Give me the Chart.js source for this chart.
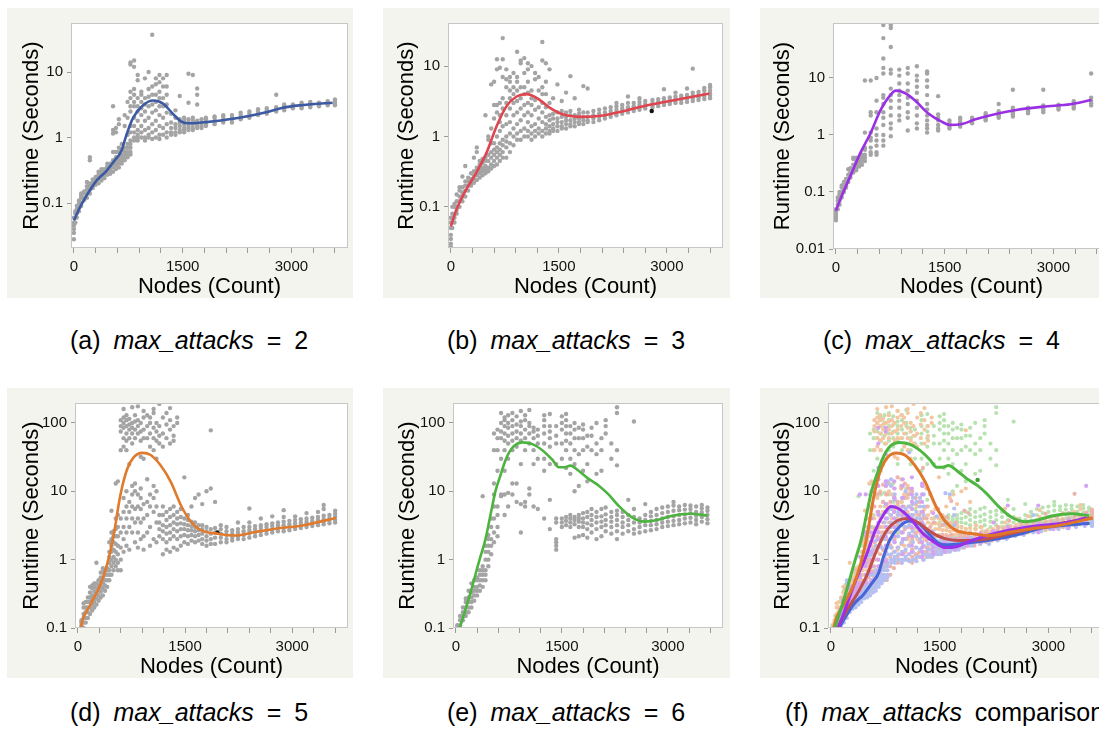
<!DOCTYPE html>
<html>
<head>
<meta charset="utf-8">
<script src="https://cdn.jsdelivr.net/npm/chart.js@4.4.0/dist/chart.umd.min.js"></script>
<style>
  body { margin: 0; background: #fff; width: 1099px; height: 736px; overflow: hidden; position: relative; }
  canvas { position: absolute; background: #f4f4ef; }
  .cap { position: absolute; font-family: "Liberation Sans", Arial, sans-serif; font-size: 25px; line-height: 30px;
         color: #000; white-space: nowrap; word-spacing: 6px; }
</style>
</head>
<body>
<canvas id="pa" width="346" height="290" style="left:7px;top:8px"></canvas>
<canvas id="pb" width="347" height="290" style="left:383px;top:8px"></canvas>
<canvas id="pc" width="355" height="290" style="left:760px;top:8px"></canvas>
<canvas id="pd" width="346" height="290" style="left:7px;top:388px"></canvas>
<canvas id="pe" width="347" height="290" style="left:383px;top:388px"></canvas>
<canvas id="pf" width="350" height="290" style="left:760px;top:388px"></canvas>

<div class="cap" style="left:70px;top:325px">(a) <i>max_attacks</i> = 2</div>
<div class="cap" style="left:447px;top:325px">(b) <i>max_attacks</i> = 3</div>
<div class="cap" style="left:823px;top:325px">(c) <i>max_attacks</i> = 4</div>
<div class="cap" style="left:70px;top:697px">(d) <i>max_attacks</i> = 5</div>
<div class="cap" style="left:447px;top:697px">(e) <i>max_attacks</i> = 6</div>
<div class="cap" style="left:785px;top:697px">(f) <i>max_attacks</i> comparison</div>

<script>
// ---- tick labels ----
const nodeTicks = [0, 300, 600, 900, 1200, 1500, 1800, 2100, 2400, 2700, 3000, 3300, 3600];
const nodeLabels = [0, 1500, 3000];
const runtimeTicks = [0.01, 0.1, 1, 10, 100];

// ---- smoothed fits [nodes, seconds] ----
const lineA = [[0,0.054],[83,0.086],[174,0.13],[312,0.22],[450,0.31],[564,0.45],[656,0.63],[725,1.1],[816,2.0],[954,3.1],[1091,3.67],[1229,3.3],[1366,2.3],[1481,1.75],[1596,1.65],[1826,1.72],[2193,1.93],[2651,2.44],[2880,2.85],[3110,3.1],[3568,3.4]];
const lineB = [[0,0.053],[79,0.092],[218,0.18],[357,0.31],[496,0.59],[635,1.4],[774,2.7],[913,3.7],[1052,4.0],[1191,3.55],[1376,2.55],[1561,2.05],[1839,1.9],[2117,1.99],[2395,2.29],[2673,2.69],[2951,3.07],[3276,3.55],[3591,4.07]];
const lineC = [[0,0.047],[56,0.072],[196,0.186],[336,0.48],[477,1.07],[617,2.75],[734,4.7],[827,6.0],[944,5.5],[1084,4.1],[1271,2.4],[1458,1.71],[1575,1.5],[1739,1.56],[1925,1.88],[2206,2.33],[2486,2.74],[2860,3.14],[3234,3.45],[3524,4.1]];
const lineD = [[35,0.09],[52,0.116],[170,0.215],[311,0.42],[406,0.83],[500,2.26],[594,8.7],[689,21],[783,31.6],[901,36.5],[1019,34],[1160,23.8],[1302,13.6],[1443,6.2],[1585,3.55],[1726,2.68],[1962,2.4],[2197,2.26],[2480,2.54],[2764,2.84],[3141,3.17],[3613,4.06]];
const lineE = [[40,0.09],[60,0.104],[196,0.30],[336,1.0],[420,2.0],[490,4.5],[560,10],[630,17],[700,28],[760,38],[830,47],[944,52],[1084,49],[1224,40],[1365,29],[1458,22.5],[1540,22.5],[1622,23.8],[1738,20],[1879,15.2],[2019,12.2],[2160,9.0],[2299,6.2],[2486,4.2],[2673,3.6],[2850,3.8],[3047,4.35],[3327,4.7],[3561,4.4]];

// ---- measured runs: [nodes, [seconds...]] ----
const runsA = [
  [0,[0.028,0.035,0.04,0.045,0.05,0.06]],[20,[0.05,0.06,0.07,0.075]],[40,[0.06,0.07,0.08,0.09]],
  [70,[0.075,0.085,0.1,0.11]],[100,[0.09,0.1,0.12,0.13,0.14]],[140,[0.11,0.12,0.14,0.15]],
  [180,[0.12,0.14,0.16,0.18,0.21]],[220,[0.14,0.16,0.18,0.2,0.45,0.5]],[260,[0.17,0.19,0.21,0.23]],
  [300,[0.19,0.21,0.23,0.25]],[340,[0.2,0.23,0.25,0.27,0.3]],[380,[0.22,0.25,0.27,0.3,0.33]],
  [420,[0.24,0.27,0.3,0.33]],[460,[0.27,0.3,0.33,0.36,0.4]],[500,[0.28,0.32,0.35,0.4]],
  [540,[0.3,0.35,0.4,0.45,0.6,1.15,1.3,3.0]],[580,[0.33,0.38,0.42,0.5,0.6,1.2,1.4]],
  [620,[0.35,0.4,0.45,0.5,0.6,0.7,1.6,1.9]],[660,[0.4,0.45,0.5,0.55,0.65,0.8]],
  [700,[0.45,0.5,0.55,0.6,0.7,1.5,2.2]],[740,[0.5,0.55,0.6,0.7,0.8,1.1,2.0,3.5]],
  [780,[0.55,0.6,0.7,0.8,0.9,1.2,1.5,2.5,3.0,4.0,5.0,13,14]],[830,[0.9,1.0,1.2,1.5,2.0,3.0,3.5,4.5,5.5,12,15]],
  [880,[0.9,1.0,1.1,1.3,1.8,2.5,3.0,4.0,7.5,9.0]],[930,[1.0,1.2,1.5,2.2,2.8,3.5,4.5,5.0]],
  [980,[0.9,1.0,1.3,1.8,2.5,3.2,4.0,8.0]],[1030,[1.0,1.1,1.4,2.0,3.0,4.2,5.5,10]],
  [1080,[0.95,1.2,1.6,2.4,3.2,4.5,6.0,37]],[1130,[1.0,1.3,1.8,2.6,3.5,4.5,6.5,8.0]],
  [1180,[0.95,1.1,1.5,2.2,3.0,4.0,5.0,7.0,9.0]],[1230,[1.1,1.4,2.0,3.0,4.0,6.0,8.0]],
  [1280,[1.0,1.2,1.6,2.4,3.2,4.5,6.0,9.0]],[1340,[1.1,1.2,1.4,1.7,2.3]],[1400,[1.1,1.2,1.4,1.6,2.0,2.6]],
  [1460,[1.2,1.3,1.5,1.7,1.9,4.3]],[1520,[1.2,1.3,1.4,1.6,1.8,2.0]],[1580,[1.3,1.4,1.5,1.7,1.9,3.4,9.4]],
  [1640,[1.3,1.4,1.6,1.8,2.0,9.0]],[1700,[1.4,1.5,1.6,1.8,3.2,4.5,5.6]],[1760,[1.4,1.5,1.7,1.9]],
  [1820,[1.5,1.6,1.7,1.9,2.0]],[1940,[1.6,1.7,1.8,2.0,2.1]],[2060,[1.7,1.8,1.9,2.1,2.2]],
  [2180,[1.7,1.9,2.0,2.2]],[2300,[1.9,2.0,2.2,2.4]],[2420,[2.0,2.1,2.3,2.5]],[2540,[2.2,2.3,2.5,2.7]],
  [2660,[2.3,2.4,2.6,2.8]],[2790,[2.5,2.7,2.9,4.5]],[2900,[2.6,2.8,3.0,3.2]],[3020,[2.8,3.0,3.2]],
  [3140,[2.8,3.0,3.2,3.4]],[3260,[2.9,3.1,3.3,3.5]],[3380,[3.0,3.2,3.4]],[3500,[3.1,3.3,3.5,3.6]],
  [3600,[3.1,3.2,3.4,3.6,3.8]]
];
const runsB = [
  [0,[0.027,0.03,0.035,0.04,0.05,0.06,0.07]],[20,[0.05,0.06,0.07,0.08,0.1]],[50,[0.06,0.07,0.08,0.1,0.11]],
  [80,[0.08,0.09,0.1,0.12,0.15]],[120,[0.1,0.12,0.14,0.17,0.19]],[160,[0.12,0.14,0.16,0.19,0.27]],
  [200,[0.14,0.17,0.2,0.23,0.38]],[240,[0.17,0.2,0.23,0.26]],[280,[0.2,0.22,0.25,0.3]],
  [320,[0.22,0.25,0.28,0.32,0.5]],[360,[0.24,0.28,0.32,0.36,0.6,0.7]],[400,[0.26,0.3,0.34,0.4,0.45]],
  [440,[0.28,0.32,0.36,0.42,0.48]],[480,[0.3,0.34,0.38,0.45,0.5,2.0]],[520,[0.32,0.36,0.45,0.55,0.9,1.0]],
  [560,[0.35,0.4,0.5,0.6,0.8,1.3,5.5]],[600,[0.38,0.45,0.55,0.65,0.8,1.8,2.8,6.0]],
  [640,[0.4,0.5,0.6,0.7,1.0,2.2,2.8,9.0,12.5]],[680,[0.45,0.55,0.65,0.8,1.2,1.6,2.0,3.0,9.5]],
  [720,[0.5,0.6,0.75,0.9,1.4,2.5,3.5,7.0,12.5,25]],[770,[0.5,0.7,0.85,1.0,1.5,2.0,3.0,5.0,6.5,9.0]],
  [820,[0.6,0.8,1.1,1.6,2.5,3.5,4.5,6.0,7.0]],[870,[0.75,1.0,1.3,2.0,3.0,4.0,5.0,8.0]],
  [920,[0.9,1.1,1.5,2.2,3.2,4.5,6.0,7.0,16]],[970,[0.9,1.2,1.7,2.5,3.5,5.0,11,12]],
  [1020,[1.0,1.3,2.0,2.8,4.0,5.0,8.0,13]],[1070,[1.0,1.2,1.6,2.2,3.0,4.2,6.0,9.0,11]],
  [1120,[0.9,1.1,1.4,2.0,2.8,3.5,4.5,10]],[1170,[1.0,1.2,1.5,2.4,3.3,6.5,8.0]],
  [1220,[1.1,1.3,1.8,2.6,4.5,7.0]],[1270,[1.0,1.2,1.6,2.2,3.0,4.0,5.0,12,22]],
  [1320,[1.1,1.3,1.5,1.9,2.6,4.0,6.0,11]],[1370,[1.1,1.2,1.4,1.7,2.0,3.0,9.0]],
  [1420,[1.2,1.3,1.5,1.8,2.1,3.5]],[1480,[1.2,1.4,1.6,1.8,2.2,5.5]],[1540,[1.3,1.4,1.6,1.9,2.3,3.2]],
  [1600,[1.3,1.5,1.7,1.9,2.2,4.2]],[1660,[1.4,1.5,1.7,2.0,2.3,7.2]],[1720,[1.4,1.6,1.8,2.0,3.5]],
  [1780,[1.5,1.6,1.8,2.1,2.4]],[1840,[1.5,1.7,1.9,2.2,5.2]],[1900,[1.6,1.7,1.9,2.2,4.8]],
  [1980,[1.6,1.8,2.0,2.3]],[2060,[1.7,1.9,2.1,2.4]],[2140,[1.8,2.0,2.2,2.5]],[2220,[1.9,2.1,2.3,2.6]],
  [2300,[2.0,2.2,2.4,2.7,3.0]],[2380,[2.1,2.3,2.5,2.8]],[2460,[2.2,2.4,2.6,3.0,3.7]],
  [2540,[2.3,2.5,2.7,3.0]],[2620,[2.4,2.6,2.8,3.1,3.5]],[2700,[2.5,2.7,2.9,3.2]],
  [2800,[2.6,2.8,3.0,3.3]],[2880,[2.7,2.9,3.1,3.4]],[2960,[2.8,3.0,3.2,3.5,4.7]],
  [3040,[2.9,3.1,3.3,3.6]],[3120,[3.0,3.2,3.4,3.7,4.2]],[3200,[3.0,3.3,3.5,3.8]],
  [3280,[3.1,3.4,3.6,3.9,4.8]],[3360,[3.2,3.5,3.8,4.2,9.2]],[3440,[3.3,3.6,3.9,4.3]],
  [3520,[3.4,3.7,4.0,4.5,4.9]],[3600,[3.5,3.8,4.1,4.5,5.0,5.4]]
];
const runsC = [
  [0,[0.032,0.035,0.038,0.042,0.046,0.05]],[25,[0.05,0.06,0.07,0.08]],[50,[0.06,0.07,0.08,0.09,0.1]],
  [80,[0.08,0.09,0.1,0.12,0.13]],[110,[0.1,0.11,0.13,0.15]],[140,[0.12,0.13,0.15,0.17]],
  [170,[0.15,0.17,0.2,0.25]],[200,[0.18,0.2,0.22,0.26]],[240,[0.22,0.25,0.3,0.38,0.4]],
  [280,[0.24,0.26,0.3,0.35,0.4]],[320,[0.28,0.3,0.34,0.38]],[360,[0.3,0.35,0.4,0.45]],
  [400,[0.35,0.4,0.45,0.55,0.6,1.1,9.0]],[480,[0.45,0.5,0.6,0.8,0.9,1.1,2.2,2.5,9.0]],
  [560,[0.45,0.5,0.65,0.8,1.0,1.3,2.5,4.0,10]],
  [654,[0.65,0.8,1.0,1.5,2.0,2.5,3.5,4.5,5.0,12,15,22,50,85]],
  [757,[0.95,1.3,1.6,2.2,3.0,4.0,5.0,6.5,12,14,35,75,85]],
  [874,[1.8,2.2,3.0,4.0,5.0,6.0,8.0,11,14]],[991,[1.2,2.0,2.5,3.5,4.5,6.0,8.0,12,15]],
  [1117,[1.3,1.6,2.2,3.0,4.0,5.5,7.0,9.0,11,16]],[1258,[1.1,1.3,1.5,1.8,2.2,2.8,3.5,5.0,7.0,9.0,12,13]],
  [1410,[1.2,1.3,1.5,1.8,2.0,2.3,4.8]],[1566,[1.3,1.4,1.5,1.6,1.8]],[1714,[1.4,1.5,1.6,1.7,1.9,2.0]],
  [1878,[1.6,1.7,1.8,1.9,2.0]],[2065,[1.8,1.9,2.0,2.2,2.4]],[2245,[2.0,2.1,2.2,2.4,2.6,3.5]],
  [2440,[2.1,2.3,2.5,2.7,3.0,6.2]],[2650,[2.4,2.6,2.8,3.0]],[2860,[2.5,2.7,2.9,3.1,3.3,6.2]],
  [3070,[2.8,3.0,3.2,3.4]],[3280,[2.9,3.1,3.3,3.6,3.9]],[3520,[3.3,3.6,4.0,4.5,12]]
];
const runsD = [
  [50,[0.1,0.11,0.12,0.13]],[80,[0.1,0.12,0.14,0.16,0.2,0.23]],[110,[0.12,0.14,0.17,0.2,0.24]],
  [140,[0.14,0.17,0.2,0.24,0.28]],[170,[0.16,0.2,0.24,0.28,0.33,0.4]],[200,[0.18,0.22,0.26,0.3,0.38,0.42]],
  [230,[0.2,0.24,0.28,0.34,0.4,0.45]],[260,[0.22,0.27,0.32,0.38,0.45,0.9]],[290,[0.25,0.3,0.36,0.42,0.5]],
  [320,[0.28,0.34,0.4,0.48,0.55,0.65]],[350,[0.3,0.38,0.45,0.55,0.65,0.75]],[380,[0.35,0.42,0.5,0.6,0.7]],
  [410,[0.4,0.5,0.6,0.7,0.75]],[440,[0.5,0.6,0.7,0.9,1.1,1.3,1.8]],[470,[0.6,0.8,1.0,1.3,1.6,2.0,2.5,5.2]],
  [500,[0.7,0.9,1.1,1.4,1.8,2.2,2.6]],[530,[0.8,1.0,1.3,1.7,2.2,2.8,4.0,13]],
  [560,[0.7,0.9,1.2,1.6,2.2,3.0,4.5,14]],[600,[0.7,1.0,1.5,2.5,4.0,40,75,90,110]],
  [640,[1.3,2.0,3.0,5.0,8.0,45,60,85,100,120,160]],[680,[1.6,2.5,4.0,6.0,10,40,55,70,90,110,130]],
  [720,[1.4,3.0,5.0,7.0,25,60,80,95,115]],[760,[2.5,4.0,6.0,9.0,12,50,70,85,100,170]],
  [800,[1.8,3.5,5.5,10,13,60,80,105,130]],[840,[1.5,2.5,4.0,6.0,9.0,70,90,110,175]],
  [880,[2.0,3.5,5.5,8.0,11,32,55,75,100]],[920,[1.4,2.2,4.0,6.5,30,60,80,120,150]],
  [970,[2.5,4.5,7.0,15,60,90,130]],[1010,[1.6,3.0,6.0,9.0,45,70,100,120]],
  [1060,[2.0,5.0,8.0,12,40,60,85,140,160]],[1100,[1.8,3.5,6.0,10,30,55,75,100]],
  [1140,[2.2,2.8,3.5,4.5,50,65,90,190]],[1190,[1.2,2.0,2.6,3.2,4.5,6.0,45,70,120]],
  [1240,[1.4,1.8,2.4,3.0,3.8,5.0,60,95,140]],[1290,[1.3,2.0,2.5,3.2,4.2,5.5,50,80,110,165]],
  [1340,[1.5,2.2,2.8,3.5,4.5,6.0,55,65,90]],[1390,[1.4,2.0,2.6,3.3,4.0,5.0,100,120]],
  [1440,[1.6,2.2,2.8,3.4,4.2,5.5]],[1490,[1.8,2.3,2.8,3.3,4.0,16]],[1540,[1.7,2.2,2.7,3.2,3.8,4.5]],
  [1590,[1.9,2.3,2.7,3.1,3.6,6.0]],[1640,[1.8,2.2,2.6,3.0,3.5,8.0]],[1690,[1.9,2.3,2.7,3.2,9.0]],
  [1740,[1.7,2.0,2.4,2.8,3.2,6.5]],[1800,[1.6,1.9,2.2,2.6,3.0,10]],[1860,[1.7,2.0,2.4,2.8,11,78]],
  [1920,[1.7,2.1,2.5,2.9,7.0]],[2000,[1.8,2.1,2.4,2.8,3.2]],[2080,[1.8,2.0,2.3,2.6,3.0]],
  [2160,[1.9,2.1,2.4,2.7]],[2240,[2.0,2.2,2.5,2.8,3.5]],[2320,[2.0,2.3,2.6,3.0]],
  [2400,[2.1,2.4,2.7,3.0,3.5,5.6]],[2480,[2.2,2.5,2.8,3.1]],[2560,[2.3,2.6,2.9,3.2,4.0]],
  [2640,[2.4,2.7,3.0,3.3]],[2720,[2.5,2.8,3.1,3.4,4.3]],[2800,[2.6,2.9,3.2,3.5]],
  [2880,[2.6,2.9,3.2,3.6,4.2,5.3]],[2960,[2.7,3.0,3.3,3.7]],[3040,[2.8,3.1,3.4,3.8,4.3]],
  [3120,[2.9,3.2,3.5,3.9]],[3200,[3.0,3.3,3.6,4.0,4.8]],[3280,[3.1,3.4,3.7,4.1]],
  [3360,[3.2,3.5,3.8,4.2,5.0]],[3440,[3.3,3.6,3.9,4.4,5.5,6.3]],[3520,[3.4,3.7,4.0,4.5]],
  [3600,[3.5,3.8,4.2,4.7,5.2]]
];
const runsE = [
  [20,[0.1,0.11]],[60,[0.11,0.13,0.15]],[100,[0.13,0.15,0.17,0.2]],[140,[0.15,0.17,0.2,0.24,0.27]],
  [180,[0.17,0.2,0.24,0.28,0.35]],[220,[0.2,0.24,0.28,0.33,0.45]],[260,[0.25,0.3,0.35,0.4,0.5]],
  [300,[0.3,0.35,0.4,0.5,0.55]],[340,[0.35,0.42,0.5,0.6,0.7]],[380,[0.4,0.5,0.6,0.7,0.8,8.5]],
  [420,[0.5,0.6,0.7,1.0,1.3,1.6]],[460,[0.8,1.0,1.3,1.6,2.0,2.3]],[500,[1.2,1.6,2.0,3.0,4.0]],
  [540,[1.8,2.5,4.0,6.0,9.0,13,40,70]],[590,[2.2,3.0,4.5,6.0,20,40,60,80]],
  [640,[8.5,9.0,30,60,75,100,140]],[690,[4.5,9.0,20,40,55,70,90,110,120]],
  [740,[6.0,9.5,30,50,65,85,100,130]],[800,[9.0,13,40,55,70,90,110,140]],
  [860,[7.0,13,45,60,75,95,125]],[920,[2.5,6.5,25,55,70,90,105,150]],[980,[6.0,7.0,40,60,80,110,130]],
  [1040,[9.0,11,50,70,90,100,155]],[1100,[6.0,25,40,60,75,85]],[1160,[5.5,30,50,65,80]],
  [1250,[4.0,20,30,50,70,90,110,130]],[1330,[2.8,7.5,25,45,60,75,90,135]],
  [1420,[1.4,1.6,1.8,2.0,3.5,4.0,25,50,65,90]],[1500,[3.0,3.5,4.0,30,50,80,100,125]],
  [1560,[3.2,3.7,4.2,22,40,55,70,90,110,135]],[1620,[3.0,3.5,4.0,4.5,18,30,50,70,90]],
  [1680,[2.1,3.3,3.8,4.2,10,25,40,60,80,100]],[1740,[2.2,3.0,3.6,4.0,4.5,12,35,60,85]],
  [1800,[2.3,3.0,3.5,4.0,4.8,20,40,60,80,95]],[1860,[2.1,2.8,3.4,4.2,5.0,14,25,45,65]],
  [1920,[2.5,3.2,3.8,4.5,5.5,40,65,85]],[1990,[2.0,2.8,3.5,4.2,5.0,18,35,50,100]],
  [2060,[2.2,3.0,3.6,4.3,5.5,20,40,60]],[2120,[2.6,3.2,3.8,4.6,5.8,70,90,110]],
  [2200,[2.4,3.0,3.6,4.2,5.0,30,50]],[2280,[2.0,2.6,3.2,3.8,4.5,5.2,24,40,140,170]],
  [2360,[2.4,3.0,3.5,4.2,5.0]],[2440,[2.6,3.2,3.8,4.5,7.5]],[2520,[2.4,2.8,3.5,4.2,5.5,105]],
  [2600,[2.5,3.0,3.5,4.0]],[2680,[2.6,3.2,3.8,4.5,6.5]],[2760,[2.7,3.2,3.7,4.3,5.0]],
  [2840,[2.8,3.3,3.8,4.5,5.5]],[2920,[3.0,3.5,4.0,4.8,5.8]],[3000,[3.1,3.6,4.2,5.0,6.0]],
  [3080,[3.2,3.7,4.3,5.2,6.2,7.0]],[3160,[3.3,3.8,4.5,5.3,6.0]],[3240,[3.4,4.0,4.6,5.4,6.3]],
  [3320,[3.5,4.1,4.8,5.5,6.2]],[3400,[3.3,3.8,4.4,5.0,6.0]],[3480,[3.6,4.2,4.9,5.6,6.3]],
  [3560,[3.4,3.9,4.5,5.2,5.8]]
];
// highlighted single runs
const markB = [[2790, 2.3]];
const markD = [[1953, 2.5]];
const markF = [[2023, 14.7]];

// ---- helpers ----
const FONT = '"Liberation Sans", Arial, Helvetica, sans-serif';
const toPts = pairs => pairs.map(p => ({ x: p[0], y: p[1] }));
const flatten = runs => {
  const pts = [];
  runs.forEach(([x, ys]) => ys.forEach(y => pts.push({ x: x, y: y })));
  return pts;
};

const framePlugin = {
  id: 'frame',
  beforeDatasetsDraw(chart) {
    const { ctx, chartArea: a } = chart;
    ctx.save();
    ctx.fillStyle = '#ffffff';
    ctx.fillRect(a.left, a.top, a.right - a.left, a.bottom - a.top);
    ctx.restore();
  },
  afterDraw(chart) {
    const { ctx, chartArea: a } = chart;
    ctx.save();
    ctx.strokeStyle = '#c6c6c6';
    ctx.lineWidth = 1;
    ctx.strokeRect(a.left + 0.5, a.top + 0.5, a.right - a.left - 1, a.bottom - a.top - 1);
    ctx.restore();
  }
};

function lineSet(pairs, color, width) {
  return {
    type: 'line', data: toPts(pairs), borderColor: color, borderWidth: width,
    pointRadius: 0, fill: false, cubicInterpolationMode: 'monotone'
  };
}
function dotSet(pts, color, r) {
  return {
    type: 'scatter', data: pts, backgroundColor: color, borderWidth: 0,
    pointRadius: r, pointHoverRadius: r
  };
}

function panel(id, p, datasets) {
  const ctx = document.getElementById(id).getContext('2d');
  return new Chart(ctx, {
    type: 'scatter',
    data: { datasets: datasets },
    plugins: [framePlugin],
    options: {
      responsive: false, animation: false, devicePixelRatio: 1,
      layout: { padding: { top: p.top, right: p.right, left: 0, bottom: 0 } },
      plugins: { legend: { display: false }, tooltip: { enabled: false } },
      scales: {
        x: {
          type: 'linear', min: -40, max: 3780,
          afterBuildTicks: s => { s.ticks = nodeTicks.map(v => ({ value: v })); },
          afterFit: s => { s.height = p.xh; },
          ticks: {
            autoSkip: false, maxRotation: 0, padding: 5, color: '#111',
            font: { family: FONT, size: 15 },
            callback: v => nodeLabels.includes(v) ? String(v) : ''
          },
          grid: { drawOnChartArea: false, drawTicks: true, tickLength: 5, color: '#9a9a9a' },
          border: { display: false },
          title: { display: true, text: 'Nodes (Count)', color: '#000',
                   font: { family: FONT, size: 22, lineHeight: 1 }, padding: { top: 0, bottom: 0 } }
        },
        y: {
          type: 'logarithmic', min: p.ymin, max: p.ymax,
          afterBuildTicks: s => {
            s.ticks = runtimeTicks.filter(v => v >= p.ymin * 0.999 && v <= p.ymax).map(v => ({ value: v }));
          },
          afterFit: s => { s.width = p.yw; },
          ticks: { padding: 4, color: '#111', font: { family: FONT, size: 15 }, callback: v => String(v) },
          grid: { drawOnChartArea: false, drawTicks: true, tickLength: 4, color: '#9a9a9a' },
          border: { display: false },
          title: { display: true, text: 'Runtime (Seconds)', color: '#000',
                   font: { family: FONT, size: 22, lineHeight: 1 }, padding: { top: p.tp, bottom: 0 } }
        }
      }
    }
  });
}

const GREY = '#a4a4a4';
const R = 2.2;

panel('pa', { top: 15, right: 5, xh: 50, yw: 64, tp: 14, ymin: 0.0206, ymax: 56 },
  [lineSet(lineA, '#3b5aa3', 2.6), dotSet(flatten(runsA), GREY, R)]);

panel('pb', { top: 15, right: 7, xh: 50, yw: 65, tp: 13, ymin: 0.026, ymax: 41 },
  [lineSet(lineB, '#e0454f', 2.6), dotSet(toPts(markB), '#111', R), dotSet(flatten(runsB), GREY, R)]);

panel('pc', { top: 15, right: 5, xh: 49, yw: 73, tp: 12, ymin: 0.01, ymax: 92 },
  [lineSet(lineC, '#9a30e4', 2.6), dotSet(flatten(runsC), GREY, R)]);

panel('pd', { top: 15, right: 5, xh: 50, yw: 68, tp: 14, ymin: 0.1, ymax: 196 },
  [lineSet(lineD, '#e07a2c', 2.6), dotSet(toPts(markD), '#111', R), dotSet(flatten(runsD), GREY, R)]);

panel('pe', { top: 15, right: 7, xh: 50, yw: 70, tp: 14, ymin: 0.1, ymax: 196 },
  [lineSet(lineE, '#4cb43e', 2.6), dotSet(flatten(runsE), GREY, R)]);

panel('pf', { top: 15, right: 5, xh: 50, yw: 68, tp: 12, ymin: 0.1, ymax: 196 },
  [
    lineSet(lineE, '#4db540', 3),
    lineSet(lineD, '#e0762a', 3),
    lineSet(lineC, '#9b30ea', 3),
    lineSet(lineB, '#c0504d', 3),
    lineSet(lineA, '#4466d6', 3),
    dotSet(toPts(markF), '#3f9e35', 2.2),
    dotSet(flatten(runsC), '#d4a4f2', 2.1),
    dotSet(flatten(runsA), '#b4c0f2', 2.1),
    dotSet(flatten(runsB), '#ecb4ae', 2.1),
    dotSet(flatten(runsD), '#f4c6a2', 2.1),
    dotSet(flatten(runsE), '#b8e2b0', 2.1)
  ]);
</script>
</body>
</html>
